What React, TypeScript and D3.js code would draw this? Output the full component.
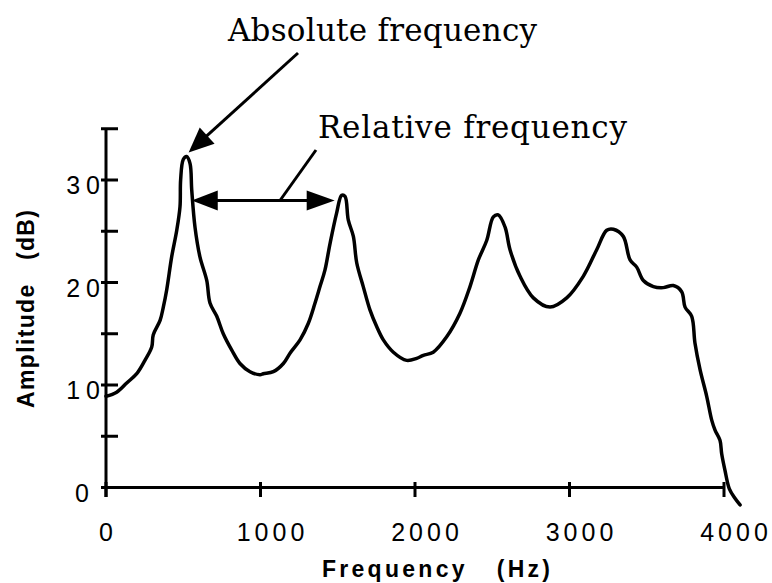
import * as d3 from 'd3';

// spectrum: frequency (Hz) / amplitude (dB)
const freqHz = [
  0, 69, 134, 199, 252, 296, 306, 350, 371, 393, 425, 458, 479, 483, 500, 522, 544, 555, 576, 608,
  652, 673, 717, 759, 814, 867, 932, 997, 1018, 1083, 1148, 1191, 1256, 1309, 1353, 1385, 1417,
  1450, 1493, 1525, 1547, 1568, 1601, 1623, 1665, 1709, 1752, 1795, 1860, 1946, 2011, 2054, 2118,
  2205, 2291, 2356, 2410, 2464, 2507, 2539, 2583, 2615, 2680, 2766, 2874, 2982, 3089, 3176, 3241,
  3284, 3348, 3392, 3435, 3478, 3543, 3607, 3672, 3726, 3748, 3791, 3812, 3845, 3888, 3920, 3942,
  3974, 3985, 4006, 4034, 4071, 4104,
];
const ampDb = [
  8.9, 9.3, 10.2, 11.1, 12.4, 13.7, 14.9, 16.3, 17.6, 19.3, 22.5, 25.1, 27.4, 30.0, 32.0, 32.3, 31.6,
  29.0, 25.4, 22.5, 20.2, 18.0, 16.7, 15.0, 13.4, 12.1, 11.3, 11.0, 11.1, 11.3, 12.1, 13.1, 14.4,
  16.0, 18.0, 19.6, 21.2, 23.8, 26.8, 28.5, 28.4, 26.1, 24.5, 21.9, 19.6, 17.3, 15.7, 14.4, 13.2,
  12.4, 12.6, 12.9, 13.2, 14.7, 17.0, 19.6, 22.2, 24.1, 26.4, 26.6, 25.4, 23.2, 20.6, 18.5, 17.6,
  18.5, 20.6, 23.2, 25.1, 25.2, 24.5, 22.2, 21.5, 20.2, 19.6, 19.5, 19.7, 19.1, 17.6, 16.7, 14.1,
  11.5, 8.9, 6.6, 5.6, 4.6, 3.3, 1.7, -0.1, -1.05, -1.7,
];

const xTicks = [0, 1000, 2000, 3000, 4000];
const yTicks = [0, 5, 10, 15, 20, 25, 30, 35];
const yLabelTicks = [0, 10, 20, 30];

// annotation anchors (data units)
const absPeak = { f: 522, db: 32.3 };
const relSpan = [555, 1480];
const relLevel = 28;

const W = 772;
const H = 583;

function arrowHead(tipX: number, tipY: number, fromX: number, fromY: number, len: number, half: number) {
  const dx = tipX - fromX;
  const dy = tipY - fromY;
  const d = Math.hypot(dx, dy);
  const ux = dx / d;
  const uy = dy / d;
  const bx = tipX - ux * len;
  const by = tipY - uy * len;
  return `M${tipX},${tipY}L${bx - uy * half},${by + ux * half}L${bx + uy * half},${by - ux * half}Z`;
}

export default function App() {
  const x = d3.scaleLinear().domain([0, 4000]).range([106, 724]);
  const y = d3.scaleLinear().domain([0, 35]).range([487.5, 128.75]);

  const pts: [number, number][] = freqHz.map((f, i) => [f, ampDb[i]]);
  const line = d3
    .line<[number, number]>()
    .x(d => x(d[0]))
    .y(d => y(d[1]))
    .curve(d3.curveCatmullRom.alpha(0.5));

  const tipX = x(absPeak.f) + 2;
  const tipY = y(absPeak.db) - 4;
  const tailX = 298;
  const tailY = 53;
  const tl = Math.hypot(tailX - tipX, tailY - tipY);

  const rl = x(relSpan[0]);
  const rr = x(relSpan[1]);
  const ry = y(relLevel);
  const leadX = 280;

  const axisFont = '"Liberation Sans", Arial, Helvetica, sans-serif';
  const serif = '"DejaVu Serif", "Liberation Serif", serif';

  return (
    <svg
      width={W}
      height={H}
      style={{ position: 'absolute', left: 0, top: 0, background: '#fff' }}
    >
      <rect width={W} height={H} fill="#fff" />
      {/* axes */}
      <g stroke="#000" strokeWidth={3} fill="none">
        <line x1={x(0)} x2={x(0)} y1={y(35)} y2={497} />
        <line x1={101} x2={x(4000)} y1={y(0)} y2={y(0)} />
        {yTicks.map(t => (
          <line key={'yt' + t} x1={101} x2={118} y1={y(t)} y2={y(t)} />
        ))}
        {xTicks.map(t => (
          <line key={'xt' + t} x1={x(t)} x2={x(t)} y1={482} y2={497} />
        ))}
      </g>
      {/* tick labels */}
      <g fontFamily={axisFont} fontSize={25} fill="#000">
        {yLabelTicks.map(t => (
          <text
            key={'yl' + t}
            x={t === 0 ? 95 : 106}
            y={y(t) + 14}
            textAnchor="end"
            style={{ letterSpacing: '6px' }}
          >
            {t}
          </text>
        ))}
        {xTicks.map(t => (
          <text
            key={'xl' + t}
            x={x(t) + (t === 0 ? 2 : 12)}
            y={541}
            textAnchor="middle"
            style={{ letterSpacing: '4px' }}
          >
            {t}
          </text>
        ))}
      </g>
      {/* axis titles */}
      <text
        x={322}
        y={577}
        fontFamily={axisFont}
        fontWeight="bold"
        fontSize={23}
        textLength={228}
        lengthAdjust="spacing"
      >
        {'Frequency\u00a0\u00a0\u00a0(Hz)'}
      </text>
      <text
        transform="translate(34,309) rotate(-90)"
        textAnchor="middle"
        fontFamily={axisFont}
        fontWeight="bold"
        fontSize={23}
        textLength={198}
        lengthAdjust="spacing"
      >
        {'Amplitude\u00a0\u00a0\u00a0(dB)'}
      </text>
      {/* spectrum */}
      <path
        d={line(pts) || ''}
        fill="none"
        stroke="#000"
        strokeWidth={3.5}
        strokeLinejoin="round"
        strokeLinecap="round"
      />
      {/* absolute frequency annotation */}
      <text x={228} y={41} fontFamily={serif} fontSize={31} textLength={309} lengthAdjust="spacing">
        Absolute frequency
      </text>
      <line
        x1={tailX}
        y1={tailY}
        x2={tipX + ((tailX - tipX) * 20) / tl}
        y2={tipY + ((tailY - tipY) * 20) / tl}
        stroke="#000"
        strokeWidth={3}
      />
      <path d={arrowHead(tipX, tipY, tailX, tailY, 25, 11)} fill="#000" />
      {/* relative frequency annotation */}
      <text x={318} y={138} fontFamily={serif} fontSize={31} textLength={309} lengthAdjust="spacing">
        Relative frequency
      </text>
      <line x1={rl + 20} x2={rr - 20} y1={ry} y2={ry} stroke="#000" strokeWidth={3} />
      <path d={arrowHead(rl, ry, rr, ry, 26, 10)} fill="#000" />
      <path d={arrowHead(rr, ry, rl, ry, 28, 10)} fill="#000" />
      <line x1={leadX} y1={ry} x2={316} y2={150} stroke="#000" strokeWidth={3} />
    </svg>
  );
}
